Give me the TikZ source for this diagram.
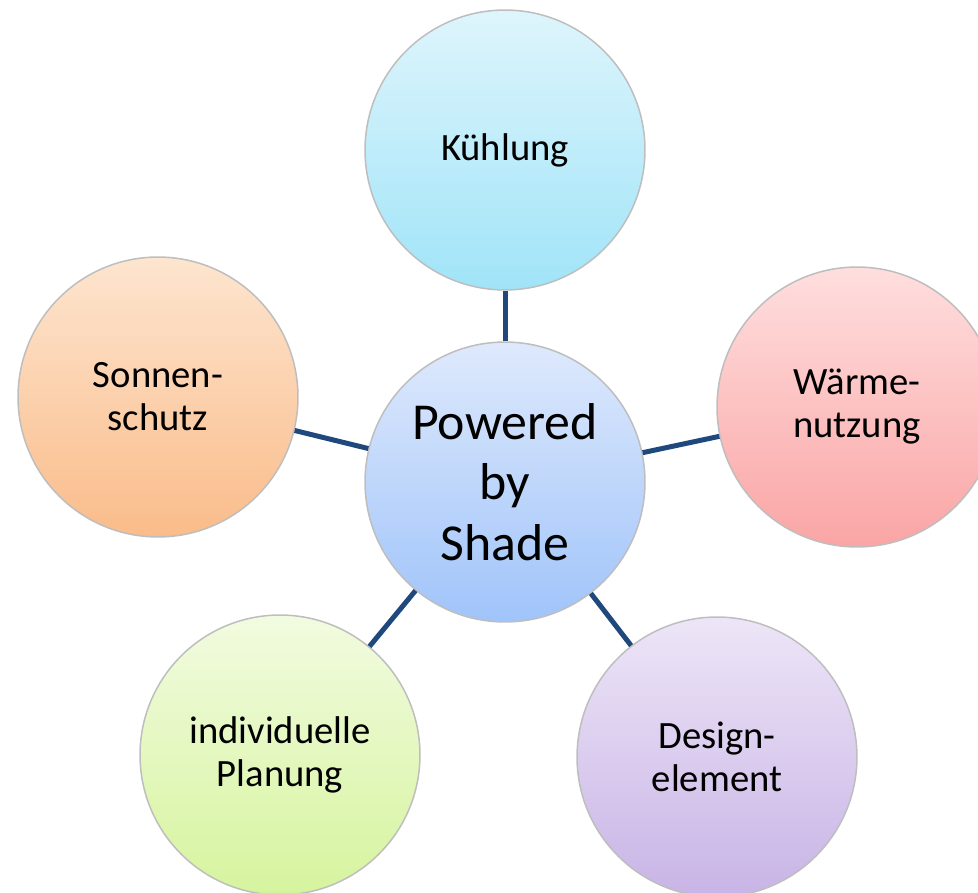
\documentclass[tikz,border=0pt]{standalone}
\usepackage{fontspec}
\setmainfont{Carlito}
\definecolor{linie}{RGB}{31,73,125}
\definecolor{rand}{RGB}{190,190,190}
\definecolor{kuehlO}{RGB}{222,245,252}
\definecolor{kuehlU}{RGB}{160,228,248}
\definecolor{mitteO}{RGB}{222,233,252}
\definecolor{mitteU}{RGB}{160,196,250}
\definecolor{waermeO}{RGB}{255,222,222}
\definecolor{waermeU}{RGB}{250,165,165}
\definecolor{sonneO}{RGB}{253,229,207}
\definecolor{sonneU}{RGB}{250,188,138}
\definecolor{planO}{RGB}{242,251,224}
\definecolor{planU}{RGB}{214,244,158}
\definecolor{designO}{RGB}{237,229,247}
\definecolor{designU}{RGB}{200,180,230}
\begin{document}
\begin{tikzpicture}[x=0.02cm,y=-0.02cm,
    kreis/.style={circle,draw=rand,line width=0.03cm,minimum size=5.6cm,
      inner sep=0pt,align=center,font=\fontsize{22}{24.5}\selectfont},
    verbindung/.style={draw=linie,line width=0.1cm}]
    % Rahmen
    \useasboundingbox (0,0) rectangle (978,893);
    \clip (0,0) rectangle (978,893);

    % Mittlerer Kreis
    \node[kreis,top color=mitteO,bottom color=mitteU,
      font=\fontsize{29.5}{34.5}\selectfont] (mitte) at (505,482) {Powered\\by\\Shade};

    % Äußere Kreise
    \node[kreis,top color=kuehlO,bottom color=kuehlU] (kuehlung) at (505,150) {Kühlung};
    \node[kreis,top color=waermeO,bottom color=waermeU] (waerme) at (857,407) {Wärme-\\nutzung};
    \node[kreis,top color=designO,bottom color=designU] (design) at (717,757) {Design-\\element};
    \node[kreis,top color=planO,bottom color=planU] (planung) at (280,755) {individuelle\\Planung};
    \node[kreis,top color=sonneO,bottom color=sonneU] (sonne) at (158,397) {Sonnen-\\schutz};

    % Verbindungen
    \foreach \ziel in {kuehlung,waerme,design,planung,sonne}
    \draw[verbindung] (mitte) -- (\ziel);
\end{tikzpicture}
\end{document}
